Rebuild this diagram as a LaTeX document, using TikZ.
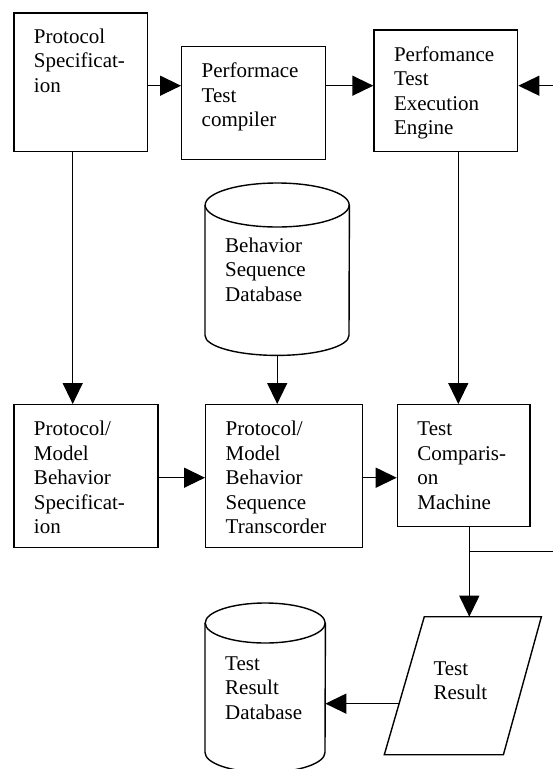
\documentclass[tikz,border=0pt]{standalone}
\usepackage{fontspec}
\setmainfont{Liberation Serif}
\usetikzlibrary{arrows.meta,calc}
\hyphenpenalty=10000
\exhyphenpenalty=10000

\begin{document}
\begin{tikzpicture}[x=1pt,y=-1pt,
  edgeln/.style={line width=1.4pt},
  arr/.style={edgeln, -{Triangle[length=21pt,width=20pt]}},
  txt/.style={anchor=north west, inner ysep=0pt, inner xsep=20pt, align=left,
              font=\fontsize{21}{24.5}\selectfont},
  blk/.style={txt, draw, edgeln},
]
% page frame
\path[use as bounding box, fill=white] (0,0) rectangle (553,769);

% process boxes (text set at the top left)
\node[blk, text width=93.4pt, text height=30pt, text depth=108.7pt] (spec) at (13.3,12.3) {Protocol\\Specificat-\\ion};
\node[blk, text width=104pt, text height=31pt, text depth=82pt] (comp) at (181,46) {Performace\\Test\\compiler};
\node[blk, text width=103.7pt, text height=31pt, text depth=90.7pt] (exec) at (373.3,29.3) {Perfomance\\Test\\Execution\\Engine};
\node[blk, text width=104pt, text height=31pt, text depth=111.7pt] (mspec) at (13.3,404) {Protocol/\\Model\\Behavior\\Specificat-\\ion};
\node[blk, text width=116.7pt, text height=31pt, text depth=111.7pt] (trans) at (205,404) {Protocol/\\Model\\Behavior\\Sequence\\Transcorder};
\node[blk, text width=92.6pt, text height=31pt, text depth=90.5pt] (cmp) at (396.7,404) {Test\\Comparis-\\on\\Machine};

% databases and result
\node[txt, text width=104pt, text height=69pt, text depth=103pt] (bdb) at (205,183) {Behavior\\Sequence\\Database};
\node[txt, text width=80pt, text height=67pt, text depth=102pt] (rdb) at (205,603) {Test\\Result\\Database};
\node[txt, inner xsep=49pt, text width=58.7pt, text height=58.3pt, text depth=79.3pt] (res) at (384.3,616.7) {Test\\Result};

% cylinder outlines
\draw[edgeln] ([yshift=-22pt]bdb.north) ellipse [x radius=72pt, y radius=22pt];
\draw[edgeln] ([yshift=-22pt]bdb.north west) -- ([yshift=20pt]bdb.south west)
  arc[start angle=180, end angle=360, x radius=72pt, y radius=20pt] -- ([yshift=-22pt]bdb.north east);
\draw[edgeln] ([yshift=-20pt]rdb.north) ellipse [x radius=60pt, y radius=20pt];
\draw[edgeln] ([yshift=-20pt]rdb.north west) -- ([yshift=20pt]rdb.south west)
  arc[start angle=180, end angle=360, x radius=60pt, y radius=20pt] -- ([yshift=-20pt]rdb.north east);

% parallelogram outline
\draw[edgeln] ([xshift=40pt]res.north west) -- (res.north east) -- ([xshift=-38pt]res.south east) -- (res.south west) -- cycle;

% connector rows and columns
\coordinate (row1) at (0,85.7);
\coordinate (ext) at (553,85.7);
\coordinate (row2) at (0,477.7);
\coordinate (col1) at (72.7,0);
\coordinate (col3) at (458.3,0);
\coordinate (col4) at (469.3,0);
\coordinate (br) at (469.3,551.7);
\coordinate (brend) at (553,551.7);
\coordinate (resL) at ($(res.south west)!0.37!([xshift=40pt]res.north west)$);

% connectors
\draw[arr] (spec.east |- row1) -- (comp.west |- row1);
\draw[arr] (comp.east |- row1) -- (exec.west |- row1);
\draw[arr] (ext) -- (exec.east |- ext);
\draw[arr] (spec.south -| col1) -- (mspec.north -| col1);
\draw[arr] (bdb.south) -- (trans.north -| bdb.south);
\draw[arr] (exec.south -| col3) -- (cmp.north -| col3);
\draw[arr] (mspec.east |- row2) -- (trans.west |- row2);
\draw[arr] (trans.east |- row2) -- (cmp.west |- row2);
\draw[arr] (cmp.south -| col4) -- (res.north -| col4);
\draw[edgeln] (br) -- (brend);
\draw[arr] (resL) -- (resL -| rdb.east);
\end{tikzpicture}
\end{document}
